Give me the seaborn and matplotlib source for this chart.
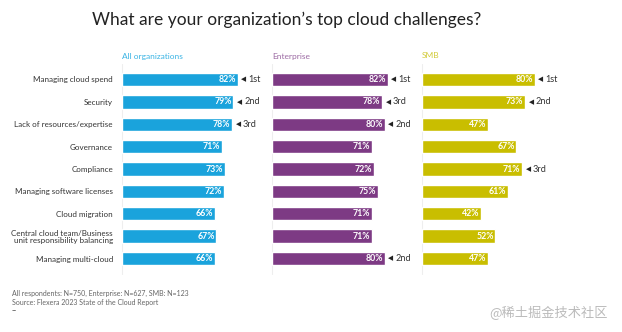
import matplotlib
matplotlib.use("Agg")
import matplotlib.pyplot as plt
import seaborn as sns
import pandas as pd

sns.set_theme(style="white")
plt.rcParams['font.family'] = ['Lato', 'DejaVu Sans']

categories = [
    "Managing cloud spend",
    "Security",
    "Lack of resources/expertise",
    "Governance",
    "Compliance",
    "Managing software licenses",
    "Cloud migration",
    "Central cloud team/Business\nunit responsibility balancing",
    "Managing multi-cloud",
]
all_orgs = [82, 79, 78, 71, 73, 72, 66, 67, 66]
enterprise = [82, 78, 80, 71, 72, 75, 71, 71, 80]
smb = [80, 73, 47, 67, 71, 61, 42, 52, 47]

all_ranks = ["1st", "2nd", "3rd", "", "", "", "", "", ""]
ent_ranks = ["1st", "3rd", "2nd", "", "", "", "", "", "2nd"]
smb_ranks = ["1st", "2nd", "", "", "3rd", "", "", "", ""]

panel_titles = ["All organizations", "Enterprise", "SMB"]
bar_colors = ["#1AA3DC", "#7D3A84", "#C9BE00"]
title_colors = ["#3BB4E4", "#9C6AA3", "#D2CB3A"]

title = "What are your organization\u2019s top cloud challenges?"
footnotes = ["All respondents: N=750, Enterprise: N=627, SMB: N=123",
             "Source: Flexera 2023 State of the Cloud Report"]

W, H = 622, 332
fig = plt.figure(figsize=(W / 100, H / 100), dpi=100)

series = [all_orgs, enterprise, smb]
ranks = [all_ranks, ent_ranks, smb_ranks]

top_px, bot_px = 68.3, 269.7
for i in range(3):
    left_px = 122 + 150 * i
    ax = fig.add_axes([left_px / W, 1 - bot_px / H, 141 / W, (bot_px - top_px) / H])
    df = pd.DataFrame({"cat": categories, "val": series[i]})
    sns.barplot(data=df, x="val", y="cat", ax=ax, color=bar_colors[i],
                width=0.6, saturation=1, order=categories)
    ax.set_xlim(0, 100)
    ax.set_ylim(8.5, -0.5)
    ax.set_xlabel("")
    ax.set_ylabel("")
    ax.set_xticks([])
    for s in ax.spines.values():
        s.set_visible(False)
    ax.axvline(0, ymin=-0.02, ymax=1.02, color="#EEEEEE", lw=0.8, zorder=0, clip_on=False)
    if i == 0:
        ax.tick_params(axis="y", length=0, pad=6.5, labelsize=5.8, labelcolor="#333333")
        for lab in ax.get_yticklabels():
            lab.set_linespacing(1.05)
    else:
        ax.set_yticks([])
    for j, v in enumerate(series[i]):
        ax.text(v - 1.2, j, f"{v}%", ha="right", va="center", color="white",
                fontsize=6.3, fontweight="bold")
        if ranks[i][j]:
            ax.text(v + 2.6, j, "\u25C0", ha="left", va="center", color="#222222",
                    fontsize=4.8, family=["DejaVu Sans"], clip_on=False)
            ax.text(v + 7.6, j, ranks[i][j], ha="left", va="center", color="#333333",
                    fontsize=6.6, clip_on=False)
    fig.text(left_px / W, 1 - 56 / H, panel_titles[i], ha="left", va="center",
             color=title_colors[i], fontsize=6)

fig.text(286.5 / W, 1 - 20 / H, title, ha="center", va="center",
         color="#222222", fontsize=12.5)
fig.text(12 / W, 1 - 293 / H, footnotes[0], ha="left", va="center",
         color="#666666", fontsize=5)
fig.text(12 / W, 1 - 303 / H, footnotes[1], ha="left", va="center",
         color="#666666", fontsize=5)
fig.text(12 / W, 1 - 311 / H, "--", ha="left", va="center",
         color="#222222", fontsize=5)
fig.text(608 / W, 1 - 313 / H, "@稀土掘金技术社区", ha="right", va="center",
         color="#BBBBBB", fontsize=9.5, family=["Noto Sans CJK SC", "DejaVu Sans"])

fig.savefig("out.png", dpi=100, facecolor="white")
